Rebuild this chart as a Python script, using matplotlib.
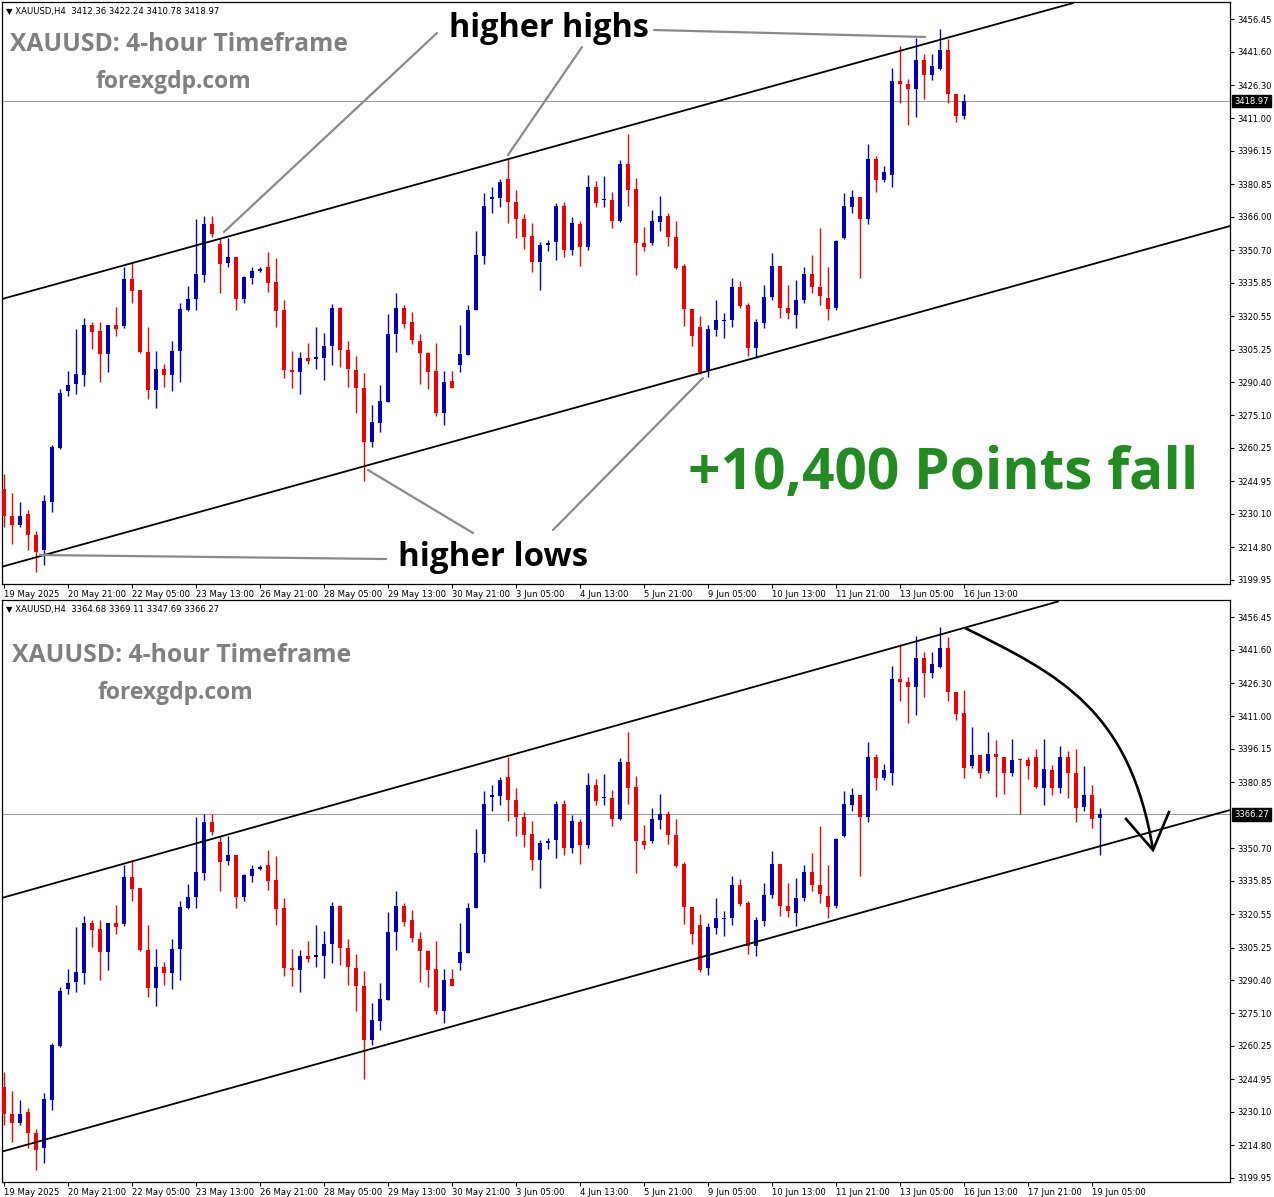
import matplotlib
matplotlib.use("Agg")
import matplotlib.pyplot as plt
from matplotlib.path import Path
from matplotlib.patches import PathPatch
from matplotlib.transforms import blended_transform_factory
import numpy as np

# ---------------- data (XAUUSD H4 candles) ----------------
opens = [3241.4, 3229.3, 3225.0, 3230.2, 3220.6, 3213.4, 3235.4, 3260.2, 3286.2, 3289.6,
         3293.8, 3316.5, 3313.7, 3303.3, 3316.5, 3316.0, 3337.7, 3332.5, 3304.2, 3286.9,
         3296.6, 3293.8, 3304.7, 3323.3, 3328.5, 3339.4, 3362.8, 3353.6, 3345.0, 3347.5,
         3328.5, 3338.0, 3341.0, 3343.2, 3336.3, 3323.3, 3296.0, 3294.8, 3301.2, 3300.9,
         3301.2, 3307.0, 3324.1, 3305.2, 3296.0, 3287.9, 3263.1, 3271.8, 3281.3, 3312.5,
         3324.1, 3318.1, 3309.4, 3303.5, 3295.5, 3276.1, 3290.9, 3298.1, 3303.0, 3323.4,
         3348.1, 3374.3, 3374.6, 3383.1, 3372.9, 3365.1, 3357.2, 3345.5, 3353.3, 3354.6,
         3371.0, 3351.0, 3362.8, 3352.4, 3379.5, 3373.5, 3373.7, 3364.2, 3390.0, 3378.9,
         3354.1, 3354.1, 3363.7, 3366.3, 3356.7, 3343.4, 3323.8, 3315.5, 3295.7, 3314.3,
         3318.5, 3318.6, 3333.8, 3325.5, 3305.9, 3317.2, 3329.5, 3343.4, 3324.3, 3321.2,
         3327.8, 3339.7, 3333.7, 3329.0, 3324.1, 3356.4, 3370.6, 3375.0, 3365.1, 3392.3,
         3382.7, 3385.3, 3428.2, 3427.0, 3424.7, 3437.9, 3430.8, 3433.6, 3442.2, 3422.1,
         3412.4, 3388.3, 3393.2, 3385.9, 3394.0, 3392.6, 3385.3, 3391.0, 3390.9, 3392.3,
         3378.4, 3386.7, 3378.1, 3392.6, 3385.3, 3369.7, 3375.3, 3364.68]
highs = [3248.4, 3239.7, 3235.4, 3231.9, 3222.4, 3238.8, 3261.4, 3287.4, 3295.5, 3314.6,
         3319.8, 3318.1, 3318.1, 3316.5, 3324.7, 3343.2, 3345.5, 3332.5, 3315.7, 3304.7,
         3298.7, 3309.1, 3326.4, 3334.2, 3364.9, 3366.3, 3366.3, 3356.2, 3356.2, 3347.5,
         3338.9, 3343.2, 3343.2, 3350.1, 3347.2, 3328.1, 3304.7, 3304.2, 3308.2, 3315.7,
         3313.0, 3325.9, 3324.7, 3309.1, 3302.5, 3294.7, 3279.9, 3289.1, 3321.5, 3331.1,
         3325.5, 3322.4, 3312.2, 3304.2, 3308.2, 3295.5, 3295.5, 3316.3, 3325.5, 3359.3,
         3376.7, 3379.6, 3383.3, 3392.6, 3378.4, 3367.5, 3363.2, 3354.5, 3355.3, 3372.3,
         3372.9, 3365.7, 3364.2, 3385.0, 3382.6, 3384.5, 3377.2, 3391.8, 3403.9, 3383.6,
         3361.4, 3368.9, 3375.5, 3367.7, 3364.2, 3344.6, 3323.8, 3320.8, 3316.3, 3328.1,
         3322.1, 3338.2, 3336.8, 3326.4, 3319.1, 3334.7, 3349.5, 3343.7, 3334.7, 3337.3,
         3342.9, 3348.6, 3360.7, 3342.9, 3355.3, 3377.0, 3378.1, 3375.0, 3399.2, 3393.7,
         3389.3, 3433.9, 3444.3, 3429.2, 3447.8, 3440.5, 3440.3, 3452.1, 3447.3, 3422.1,
         3423.2, 3406.2, 3393.2, 3404.1, 3400.4, 3392.6, 3400.6, 3391.8, 3392.6, 3396.3,
         3400.6, 3388.8, 3397.5, 3395.2, 3396.1, 3388.3, 3379.8, 3369.11]
lows = [3224.1, 3216.3, 3224.1, 3213.7, 3203.6, 3206.8, 3231.0, 3259.6, 3283.9, 3284.8,
        3288.8, 3305.6, 3290.3, 3295.2, 3311.3, 3315.1, 3326.4, 3303.5, 3282.5, 3278.7,
        3288.3, 3286.5, 3290.3, 3322.9, 3323.3, 3336.4, 3356.7, 3331.2, 3343.2, 3323.3,
        3326.4, 3335.4, 3340.6, 3331.6, 3315.7, 3292.2, 3287.7, 3284.8, 3298.7, 3296.6,
        3291.2, 3298.1, 3297.2, 3288.3, 3276.1, 3244.9, 3260.5, 3267.4, 3281.3, 3304.2,
        3315.1, 3307.8, 3289.6, 3287.0, 3274.7, 3270.9, 3287.7, 3295.2, 3303.0, 3323.4,
        3344.6, 3367.7, 3370.6, 3363.2, 3356.2, 3351.2, 3340.6, 3332.5, 3350.3, 3346.3,
        3347.7, 3348.6, 3343.4, 3351.0, 3370.6, 3370.6, 3361.1, 3363.7, 3371.1, 3339.4,
        3350.3, 3352.9, 3359.3, 3352.7, 3342.0, 3316.0, 3307.0, 3294.3, 3292.9, 3311.6,
        3310.4, 3315.7, 3324.3, 3302.1, 3301.2, 3315.1, 3328.1, 3319.8, 3319.4, 3315.1,
        3326.7, 3331.3, 3325.5, 3318.6, 3323.3, 3355.9, 3367.7, 3338.0, 3362.5, 3377.5,
        3381.9, 3379.6, 3418.3, 3408.2, 3411.9, 3419.7, 3428.7, 3433.0, 3418.3, 3409.3,
        3382.7, 3387.4, 3382.7, 3385.3, 3374.1, 3375.5, 3383.6, 3366.3, 3382.2, 3378.4,
        3370.6, 3375.3, 3375.8, 3373.6, 3362.5, 3367.7, 3360.2, 3347.69]
closes = [3229.3, 3225.0, 3229.3, 3220.3, 3212.8, 3235.9, 3260.5, 3285.6, 3289.1, 3294.3,
          3316.5, 3313.2, 3303.3, 3316.5, 3314.8, 3337.7, 3332.1, 3304.2, 3286.9, 3296.6,
          3293.8, 3304.7, 3323.8, 3328.5, 3339.9, 3362.8, 3358.0, 3344.6, 3347.5, 3328.5,
          3338.5, 3341.1, 3342.0, 3335.9, 3322.9, 3295.7, 3294.8, 3301.2, 3300.0, 3301.8,
          3307.0, 3324.1, 3305.1, 3296.4, 3287.9, 3263.1, 3272.1, 3281.7, 3312.5, 3324.1,
          3316.9, 3309.6, 3303.5, 3294.8, 3276.1, 3290.3, 3287.9, 3303.3, 3323.4, 3348.6,
          3371.0, 3375.0, 3381.9, 3372.9, 3364.9, 3356.6, 3345.5, 3353.1, 3353.6, 3371.0,
          3351.0, 3363.2, 3352.4, 3379.5, 3372.3, 3373.7, 3364.2, 3390.0, 3378.4, 3353.8,
          3352.4, 3364.2, 3366.3, 3356.7, 3342.5, 3323.8, 3311.6, 3295.2, 3314.6, 3318.6,
          3318.6, 3333.8, 3325.0, 3305.9, 3317.7, 3329.5, 3343.4, 3324.3, 3321.9, 3327.8,
          3339.7, 3333.7, 3329.9, 3323.8, 3355.0, 3371.1, 3375.0, 3365.1, 3392.3, 3382.7,
          3386.6, 3428.2, 3426.6, 3424.7, 3437.9, 3430.8, 3434.8, 3442.2, 3422.1, 3412.2,
          3387.4, 3393.2, 3385.0, 3394.0, 3392.6, 3385.3, 3390.9, 3390.9, 3388.3, 3378.9,
          3387.1, 3378.1, 3392.6, 3385.0, 3368.9, 3375.3, 3364.2, 3366.27]

# upper chart: snapshot taken while the 16 Jun 13:00 candle was still forming
top_count = 120
top_last_ohlc = [3412.36, 3422.24, 3410.78, 3418.97]

date_labels = ["19 May 2025", "20 May 21:00", "22 May 05:00", "23 May 13:00",
               "26 May 21:00", "28 May 05:00", "29 May 13:00", "30 May 21:00",
               "3 Jun 05:00", "4 Jun 13:00", "5 Jun 21:00", "9 Jun 05:00",
               "10 Jun 13:00", "11 Jun 21:00", "13 Jun 05:00", "16 Jun 13:00",
               "17 Jun 21:00", "19 Jun 05:00"]
top_label_count = 16
price_ticks = [3456.45, 3441.60, 3426.30, 3411.00, 3396.15, 3380.85, 3366.00, 3350.70,
               3335.85, 3320.55, 3305.25, 3290.40, 3275.10, 3260.25, 3244.95, 3230.10,
               3214.80, 3199.95]

# channel trend lines: (candle index, price) end points
top_upper = [(-0.25, 3328.4), (133.6, 3463.8)]
top_lower = [(-0.25, 3205.9), (153.25, 3361.8)]
bot_upper = [(-0.25, 3328.0), (131.75, 3463.6)]
bot_lower = [(-0.25, 3211.9), (153.25, 3368.2)]

# ---------------- figure ----------------
W, H = 1274, 1197
fig = plt.figure(figsize=(W / 100, H / 100), dpi=100)
fig.patch.set_facecolor("white")

UP = "#0000B4"
DOWN = "#EE0000"


def px_axes(x0, y0, x1, y1, **kw):
    return fig.add_axes([x0 / W, 1 - y1 / H, (x1 - x0) / W, (y1 - y0) / H], **kw)


def draw_candles(ax, o, h, l, c):
    o, h, l, c = map(np.asarray, (o, h, l, c))
    x = np.arange(len(o))
    cols = np.where(c >= o, UP, DOWN)
    ax.vlines(x, l, h, colors=cols, linewidth=1.0, zorder=2)
    bottom = np.minimum(o, c)
    height = np.maximum(np.abs(c - o), 0.5)
    ax.bar(x, height, bottom=bottom, width=0.62, color=cols, linewidth=0, zorder=3)


def setup(ax, labels, cur_price):
    ax.set_xlim(-0.25, 153.25)
    ax.set_ylim(3198.0, 3464.3)
    ax.yaxis.tick_right()
    # the current-price box hides the grid label it sits on
    ticks = [p for p in price_ticks if abs(p - cur_price) > 4.0]
    ax.set_yticks(ticks)
    ax.set_yticklabels([f"{p:.2f}" for p in ticks])
    ax.tick_params(axis="y", direction="out", length=3, width=0.8, labelsize=6, pad=2.5)
    ax.set_xticks(np.arange(len(labels)) * 8)
    ax.set_xticklabels(labels, ha="left")
    ax.tick_params(axis="x", direction="out", length=3, width=0.8, labelsize=6.1, pad=1.5)
    for s in ax.spines.values():
        s.set_linewidth(0.9)
    ax.axhline(cur_price, color="#9a9a9a", lw=0.7, zorder=1)
    tr = blended_transform_factory(ax.transAxes, ax.transData)
    ax.text(1.0035, cur_price, f"{cur_price:.2f}", transform=tr, ha="left", va="center",
            fontsize=6, color="white", zorder=10, clip_on=False,
            bbox=dict(boxstyle="square,pad=0.22", fc="black", ec="black"))


def trend(ax, pts):
    ax.plot([pts[0][0], pts[1][0]], [pts[0][1], pts[1][1]], color="black", lw=1.3, zorder=4)


ax_top = px_axes(2, 2, 1230, 584)
ax_bot = px_axes(2, 600, 1230, 1182)

# top chart
t_o = opens[:top_count] + [top_last_ohlc[0]]
t_h = highs[:top_count] + [top_last_ohlc[1]]
t_l = lows[:top_count] + [top_last_ohlc[2]]
t_c = closes[:top_count] + [top_last_ohlc[3]]
draw_candles(ax_top, t_o, t_h, t_l, t_c)
setup(ax_top, date_labels[:top_label_count], t_c[-1])
trend(ax_top, top_upper)
trend(ax_top, top_lower)

# bottom chart
draw_candles(ax_bot, opens, highs, lows, closes)
setup(ax_bot, date_labels, closes[-1])
trend(ax_bot, bot_upper)
trend(ax_bot, bot_lower)

# ---------------- overlay annotations (pixel coordinates) ----------------
ov = fig.add_axes([0, 0, 1, 1], zorder=20)
ov.set_xlim(0, W)
ov.set_ylim(H, 0)
ov.axis("off")
ov.patch.set_alpha(0)

renderer = fig.canvas.get_renderer()


def fit_text(x, y, s, width, **kw):
    t = ov.text(x, y, s, va="baseline", ha="left", **kw)
    for _ in range(3):
        w = t.get_window_extent(renderer).width
        t.set_fontsize(t.get_fontsize() * width / w)
    return t


hdr_top = "\u25BC XAUUSD,H4  " + " ".join(f"{v:.2f}" for v in top_last_ohlc)
hdr_bot = "\u25BC XAUUSD,H4  " + " ".join(
    f"{v:.2f}" for v in [opens[-1], highs[-1], lows[-1], closes[-1]])
fit_text(6, 14, hdr_top, 212, fontsize=7, family="DejaVu Sans", color="black")
fit_text(6, 612, hdr_bot, 213, fontsize=7, family="DejaVu Sans", color="black")

TITLE_GREY = "#808080"
fit_text(10, 51, "XAUUSD: 4-hour Timeframe", 338, fontsize=18, family="Open Sans",
         weight="bold", color=TITLE_GREY)
fit_text(95, 88, "forexgdp.com", 155, fontsize=16, family="Open Sans", weight="bold",
         color=TITLE_GREY)
fit_text(12, 662, "XAUUSD: 4-hour Timeframe", 340, fontsize=18, family="Open Sans",
         weight="bold", color=TITLE_GREY)
fit_text(98, 699, "forexgdp.com", 155, fontsize=16, family="Open Sans", weight="bold",
         color=TITLE_GREY)

fit_text(449, 37, "higher highs", 199, fontsize=22, family="Open Sans", weight="bold",
         color="black")
fit_text(398, 566, "higher lows", 190, fontsize=22, family="Open Sans", weight="bold",
         color="black")
fit_text(688, 489, "+10,400 Points fall", 510, fontsize=40, family="Open Sans",
         weight="bold", color="#228B22")

POINTER = "#8a8a8a"
pointers = [((437, 33), (224, 232)), ((582, 47), (508, 155)), ((654, 30), (925, 37)),
            ((386, 559), (40, 555)), ((473, 533), (368, 470)), ((553, 530), (703, 378))]
for (x0, y0), (x1, y1) in pointers:
    ov.plot([x0, x1], [y0, y1], color=POINTER, lw=1.6, solid_capstyle="round")

# curved arrow in lower chart
curve = Path([(965, 628), (1060, 675), (1130, 710), (1153, 850)],
             [Path.MOVETO, Path.CURVE4, Path.CURVE4, Path.CURVE4])
ov.add_patch(PathPatch(curve, fill=False, ec="black", lw=1.9))
ov.plot([1126, 1153, 1169], [819, 850, 812], color="black", lw=1.9,
        solid_joinstyle="miter")

fig.savefig("out.png", dpi=100, facecolor="white")
